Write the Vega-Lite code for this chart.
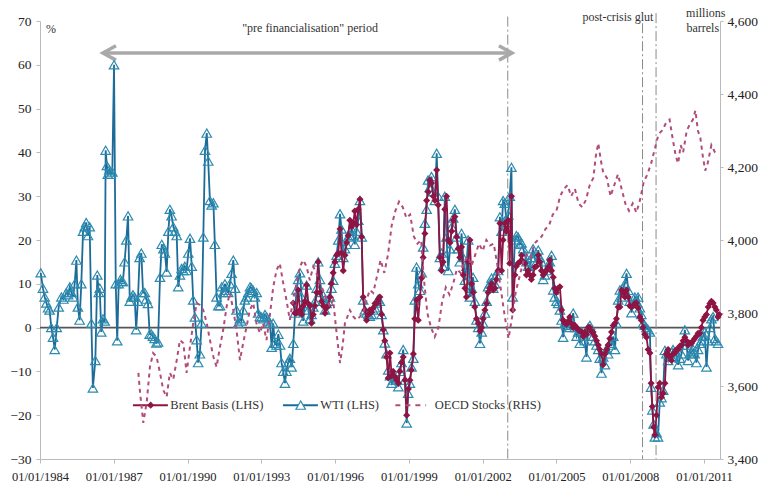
{
  "$schema": "https://vega.github.io/schema/vega-lite/v6.json",
  "width": 680,
  "height": 438,
  "autosize": {"type": "none"},
  "padding": {"left": 40, "top": 21, "right": 41, "bottom": 25},
  "background": "white",
  "config": {
    "view": {"stroke": null},
    "font": "Liberation Serif, DejaVu Serif, serif",
    "axis": {"labelFont": "Liberation Serif, DejaVu Serif, serif", "labelColor": "#222", "domainColor": "#bbbbbb", "tickColor": "#bbbbbb", "grid": false, "title": null, "labelOverlap": false, "labelFlush": false},
    "text": {"font": "Liberation Serif, DejaVu Serif, serif"}
  },
  "datasets": {
    "wti": [
      {"t":1984.03,"v":12.5},{"t":1984.12,"v":9},{"t":1984.19,"v":7},{"t":1984.26,"v":5.6},{"t":1984.33,"v":4.5},{"t":1984.39,"v":4},{"t":1984.46,"v":0},{"t":1984.53,"v":-2.2},{"t":1984.6,"v":-5},{"t":1984.68,"v":0},{"t":1984.76,"v":4.7},{"t":1984.87,"v":7},{"t":1984.95,"v":6.5},
      {"t":1985.07,"v":8},{"t":1985.14,"v":7.5},{"t":1985.21,"v":9.3},{"t":1985.28,"v":8},{"t":1985.34,"v":7},{"t":1985.41,"v":10},{"t":1985.48,"v":15.4},{"t":1985.54,"v":4.7},{"t":1985.61,"v":1.7},{"t":1985.68,"v":10},{"t":1985.75,"v":22},{"t":1985.82,"v":23},{"t":1985.88,"v":24},{"t":1985.95,"v":21},
      {"t":1986.02,"v":23},{"t":1986.09,"v":1},{"t":1986.15,"v":-13.8},{"t":1986.25,"v":-7.5},{"t":1986.33,"v":12},{"t":1986.39,"v":8},{"t":1986.43,"v":9},{"t":1986.49,"v":-1},{"t":1986.56,"v":2},{"t":1986.63,"v":1.5},{"t":1986.67,"v":40.5},{"t":1986.72,"v":37},{"t":1986.76,"v":35},{"t":1986.82,"v":36},{"t":1986.87,"v":35},{"t":1986.94,"v":35.5},
      {"t":1987.01,"v":60},{"t":1987.08,"v":10},{"t":1987.14,"v":-3},{"t":1987.2,"v":10},{"t":1987.27,"v":11},{"t":1987.31,"v":10.5},{"t":1987.37,"v":10.5},{"t":1987.44,"v":15},{"t":1987.51,"v":20},{"t":1987.58,"v":25.5},{"t":1987.65,"v":6},{"t":1987.72,"v":7},{"t":1987.78,"v":7.5},{"t":1987.85,"v":7},{"t":1987.91,"v":-0.5},{"t":1987.98,"v":6},
      {"t":1988.05,"v":16},{"t":1988.12,"v":17},{"t":1988.19,"v":8},{"t":1988.26,"v":8},{"t":1988.32,"v":6.5},{"t":1988.39,"v":5.5},{"t":1988.46,"v":-1.5},{"t":1988.53,"v":-1.5},{"t":1988.59,"v":-2},{"t":1988.66,"v":-2.5},{"t":1988.73,"v":-3.5},{"t":1988.8,"v":-3.3},{"t":1988.88,"v":11.5},{"t":1988.95,"v":19},
      {"t":1989.02,"v":18},{"t":1989.08,"v":17},{"t":1989.15,"v":12.7},{"t":1989.22,"v":22},{"t":1989.28,"v":27},{"t":1989.35,"v":25.5},{"t":1989.42,"v":23},{"t":1989.49,"v":22},{"t":1989.56,"v":21},{"t":1989.62,"v":9.3},{"t":1989.69,"v":12},{"t":1989.76,"v":13.5},{"t":1989.83,"v":13},{"t":1989.89,"v":14},{"t":1989.96,"v":13},
      {"t":1990.03,"v":17},{"t":1990.1,"v":20.4},{"t":1990.17,"v":14},{"t":1990.23,"v":6.3},{"t":1990.3,"v":2.4},{"t":1990.37,"v":-2.8},{"t":1990.43,"v":-8},{"t":1990.5,"v":-6},{"t":1990.57,"v":1},{"t":1990.64,"v":20.7},{"t":1990.71,"v":40.5},{"t":1990.78,"v":44.4},{"t":1990.84,"v":38},{"t":1990.91,"v":29},{"t":1990.98,"v":28},
      {"t":1991.05,"v":28.5},{"t":1991.11,"v":19},{"t":1991.18,"v":7},{"t":1991.25,"v":5},{"t":1991.32,"v":5},{"t":1991.39,"v":9.3},{"t":1991.45,"v":8},{"t":1991.52,"v":10},{"t":1991.59,"v":8.5},{"t":1991.65,"v":8},{"t":1991.72,"v":10},{"t":1991.79,"v":12.4},{"t":1991.86,"v":15.4},{"t":1991.93,"v":9},{"t":1991.99,"v":4},
      {"t":1992.06,"v":1},{"t":1992.13,"v":2},{"t":1992.19,"v":1.5},{"t":1992.26,"v":4},{"t":1992.33,"v":6.3},{"t":1992.4,"v":7},{"t":1992.47,"v":8},{"t":1992.54,"v":9.3},{"t":1992.6,"v":9},{"t":1992.67,"v":8.5},{"t":1992.74,"v":7},{"t":1992.81,"v":8},{"t":1992.87,"v":3.3},{"t":1992.94,"v":2.5},
      {"t":1993.01,"v":2.4},{"t":1993.08,"v":2},{"t":1993.15,"v":3},{"t":1993.22,"v":2.4},{"t":1993.28,"v":1.5},{"t":1993.35,"v":1},{"t":1993.42,"v":-4.5},{"t":1993.48,"v":1},{"t":1993.55,"v":-3.6},{"t":1993.62,"v":-4},{"t":1993.69,"v":-1.5},{"t":1993.76,"v":-4},{"t":1993.82,"v":-8},{"t":1993.89,"v":-10},{"t":1993.96,"v":-12.7},
      {"t":1994.02,"v":-10},{"t":1994.09,"v":-8},{"t":1994.16,"v":-7},{"t":1994.23,"v":-9},{"t":1994.3,"v":-3.6},{"t":1994.37,"v":3.3},{"t":1994.43,"v":8.6},{"t":1994.5,"v":11},{"t":1994.57,"v":12.5},{"t":1994.64,"v":7},{"t":1994.7,"v":1.5},{"t":1994.77,"v":5.5},{"t":1994.84,"v":9.7},{"t":1994.91,"v":4},{"t":1994.98,"v":2},
      {"t":1995.04,"v":3},{"t":1995.11,"v":4.7},{"t":1995.18,"v":6},{"t":1995.25,"v":9},{"t":1995.31,"v":15},{"t":1995.38,"v":11},{"t":1995.45,"v":8},{"t":1995.52,"v":6},{"t":1995.59,"v":4},{"t":1995.65,"v":5.5},{"t":1995.72,"v":6},{"t":1995.79,"v":7},{"t":1995.85,"v":9},{"t":1995.92,"v":10.8},{"t":1995.99,"v":14.7},
      {"t":1996.06,"v":16.5},{"t":1996.13,"v":20},{"t":1996.2,"v":26},{"t":1996.26,"v":22.5},{"t":1996.33,"v":16},{"t":1996.4,"v":18},{"t":1996.47,"v":19},{"t":1996.53,"v":20.7},{"t":1996.6,"v":21},{"t":1996.67,"v":22.5},{"t":1996.74,"v":21},{"t":1996.8,"v":19},{"t":1996.87,"v":22},{"t":1996.94,"v":24.5},
      {"t":1997.01,"v":29},{"t":1997.08,"v":20.7},{"t":1997.14,"v":6.3},{"t":1997.21,"v":4},{"t":1997.28,"v":3.3},{"t":1997.35,"v":3},{"t":1997.41,"v":2.6},{"t":1997.48,"v":3},{"t":1997.55,"v":4},{"t":1997.62,"v":4.5},{"t":1997.69,"v":5.6},{"t":1997.75,"v":6.5},{"t":1997.82,"v":6},{"t":1997.89,"v":3},{"t":1997.96,"v":-0.5},
      {"t":1998.02,"v":-3.5},{"t":1998.09,"v":-6},{"t":1998.16,"v":-9.7},{"t":1998.23,"v":-11},{"t":1998.3,"v":-12.7},{"t":1998.36,"v":-12},{"t":1998.43,"v":-11.5},{"t":1998.5,"v":-12},{"t":1998.57,"v":-13.5},{"t":1998.63,"v":-10},{"t":1998.7,"v":-8},{"t":1998.77,"v":-5},{"t":1998.84,"v":-12},{"t":1998.91,"v":-21.8},{"t":1998.97,"v":-15},
      {"t":1999.04,"v":-12.7},{"t":1999.11,"v":-9},{"t":1999.18,"v":-7},{"t":1999.24,"v":6.3},{"t":1999.31,"v":13.8},{"t":1999.38,"v":10},{"t":1999.45,"v":8.5},{"t":1999.52,"v":12.5},{"t":1999.58,"v":18.4},{"t":1999.65,"v":23.8},{"t":1999.72,"v":27},{"t":1999.78,"v":33.7},{"t":1999.85,"v":32},{"t":1999.92,"v":34.5},{"t":1999.99,"v":31},
      {"t":2000.06,"v":29},{"t":2000.13,"v":39.8},{"t":2000.19,"v":30},{"t":2000.26,"v":16},{"t":2000.33,"v":17},{"t":2000.39,"v":14},{"t":2000.46,"v":30},{"t":2000.53,"v":20.7},{"t":2000.6,"v":13},{"t":2000.67,"v":18},{"t":2000.74,"v":23},{"t":2000.8,"v":25},{"t":2000.87,"v":27},{"t":2000.94,"v":20.7},
      {"t":2001.0,"v":18},{"t":2001.07,"v":15},{"t":2001.14,"v":21.5},{"t":2001.21,"v":16},{"t":2001.28,"v":10.8},{"t":2001.34,"v":14},{"t":2001.41,"v":20},{"t":2001.48,"v":7},{"t":2001.55,"v":9},{"t":2001.61,"v":11.5},{"t":2001.68,"v":6},{"t":2001.75,"v":1.7},{"t":2001.82,"v":0},{"t":2001.89,"v":-3.6},{"t":2001.96,"v":-1},
      {"t":2002.02,"v":1},{"t":2002.09,"v":3.3},{"t":2002.16,"v":6},{"t":2002.22,"v":9.3},{"t":2002.29,"v":10},{"t":2002.36,"v":11.3},{"t":2002.43,"v":9},{"t":2002.5,"v":10},{"t":2002.56,"v":12},{"t":2002.63,"v":13},{"t":2002.7,"v":25.3},{"t":2002.77,"v":22},{"t":2002.83,"v":29},{"t":2002.9,"v":28.4},{"t":2002.97,"v":24},
      {"t":2003.04,"v":25.7},{"t":2003.1,"v":30},{"t":2003.17,"v":36.6},{"t":2003.22,"v":7},{"t":2003.31,"v":20},{"t":2003.37,"v":21},{"t":2003.44,"v":20.7},{"t":2003.51,"v":19},{"t":2003.58,"v":19.3},{"t":2003.65,"v":18},{"t":2003.72,"v":16.5},{"t":2003.78,"v":15},{"t":2003.85,"v":14},{"t":2003.92,"v":13},{"t":2003.98,"v":16},
      {"t":2004.05,"v":18},{"t":2004.12,"v":16},{"t":2004.19,"v":15},{"t":2004.26,"v":17.7},{"t":2004.32,"v":16},{"t":2004.39,"v":15},{"t":2004.46,"v":11},{"t":2004.53,"v":12},{"t":2004.59,"v":13},{"t":2004.66,"v":13.8},{"t":2004.73,"v":15},{"t":2004.8,"v":16.5},{"t":2004.87,"v":8.6},{"t":2004.93,"v":7},
      {"t":2005.0,"v":6},{"t":2005.07,"v":5.5},{"t":2005.14,"v":4},{"t":2005.21,"v":1.7},{"t":2005.27,"v":-2.2},{"t":2005.34,"v":1},{"t":2005.41,"v":0.5},{"t":2005.48,"v":1},{"t":2005.54,"v":0},{"t":2005.61,"v":1.5},{"t":2005.68,"v":3.3},{"t":2005.75,"v":0},{"t":2005.82,"v":-2},{"t":2005.88,"v":-1},{"t":2005.95,"v":-3.6},
      {"t":2006.02,"v":-1},{"t":2006.09,"v":-2},{"t":2006.15,"v":-3},{"t":2006.22,"v":-6.7},{"t":2006.29,"v":0},{"t":2006.36,"v":0.5},{"t":2006.43,"v":-0.8},{"t":2006.49,"v":-2},{"t":2006.56,"v":-3},{"t":2006.63,"v":-4},{"t":2006.7,"v":-5},{"t":2006.76,"v":-7},{"t":2006.83,"v":-10.4},{"t":2006.9,"v":-6.7},{"t":2006.97,"v":-8.5},
      {"t":2007.04,"v":-5},{"t":2007.1,"v":-6},{"t":2007.17,"v":-3.6},{"t":2007.24,"v":-4},{"t":2007.31,"v":-2},{"t":2007.38,"v":-5},{"t":2007.44,"v":1},{"t":2007.51,"v":6.3},{"t":2007.58,"v":8.6},{"t":2007.65,"v":7},{"t":2007.72,"v":9},{"t":2007.78,"v":10},{"t":2007.85,"v":12.4},{"t":2007.92,"v":8.5},{"t":2007.98,"v":6},
      {"t":2008.05,"v":3.4},{"t":2008.12,"v":5.5},{"t":2008.19,"v":7},{"t":2008.25,"v":6},{"t":2008.32,"v":7},{"t":2008.39,"v":4.5},{"t":2008.45,"v":3},{"t":2008.52,"v":1},{"t":2008.59,"v":0.5},{"t":2008.66,"v":0},{"t":2008.73,"v":-0.5},{"t":2008.8,"v":-1},{"t":2008.85,"v":-13.6},{"t":2008.9,"v":-18.8},{"t":2008.95,"v":-22},
      {"t":2009.0,"v":-25},{"t":2009.07,"v":-24},{"t":2009.13,"v":-25},{"t":2009.2,"v":-17},{"t":2009.27,"v":-16},{"t":2009.34,"v":-14.3},{"t":2009.41,"v":-5.2},{"t":2009.47,"v":-6},{"t":2009.54,"v":-7.5},{"t":2009.61,"v":-6},{"t":2009.68,"v":-6.7},{"t":2009.74,"v":-5},{"t":2009.81,"v":-5.6},{"t":2009.88,"v":-6},{"t":2009.95,"v":-8.5},
      {"t":2010.02,"v":-7},{"t":2010.09,"v":-6},{"t":2010.15,"v":-4},{"t":2010.22,"v":-0.5},{"t":2010.29,"v":-4},{"t":2010.35,"v":-7.5},{"t":2010.42,"v":-6},{"t":2010.49,"v":-5.5},{"t":2010.56,"v":-5},{"t":2010.62,"v":-6},{"t":2010.69,"v":-8},{"t":2010.76,"v":-5},{"t":2010.83,"v":-3.6},{"t":2010.89,"v":-3},{"t":2010.96,"v":-2},
      {"t":2011.03,"v":-1},{"t":2011.1,"v":-9},{"t":2011.17,"v":-3},{"t":2011.24,"v":0},{"t":2011.3,"v":2},{"t":2011.37,"v":2.5},{"t":2011.44,"v":-2.5},{"t":2011.5,"v":-3},{"t":2011.57,"v":-3.6}
    ],
    "brent": [
      {"t":1994.3,"v":5.6},{"t":1994.37,"v":3.3},{"t":1994.43,"v":3.3},{"t":1994.5,"v":8.6},{"t":1994.57,"v":4},{"t":1994.64,"v":3},{"t":1994.7,"v":5},{"t":1994.77,"v":6},{"t":1994.84,"v":9.7},{"t":1994.91,"v":5.5},{"t":1994.98,"v":5},
      {"t":1995.04,"v":1},{"t":1995.11,"v":3},{"t":1995.18,"v":5},{"t":1995.25,"v":8},{"t":1995.31,"v":15},{"t":1995.38,"v":8},{"t":1995.45,"v":6},{"t":1995.52,"v":5},{"t":1995.59,"v":3.3},{"t":1995.65,"v":4.5},{"t":1995.72,"v":5},{"t":1995.79,"v":7},{"t":1995.85,"v":10},{"t":1995.92,"v":12.5},{"t":1995.99,"v":15},
      {"t":1996.06,"v":16.5},{"t":1996.13,"v":17},{"t":1996.2,"v":22.5},{"t":1996.26,"v":17},{"t":1996.33,"v":13},{"t":1996.4,"v":16.5},{"t":1996.47,"v":19.4},{"t":1996.53,"v":21},{"t":1996.6,"v":24.5},{"t":1996.67,"v":23},{"t":1996.74,"v":24},{"t":1996.8,"v":26.6},{"t":1996.87,"v":23.5},{"t":1996.94,"v":27},
      {"t":1997.01,"v":29.3},{"t":1997.08,"v":20.7},{"t":1997.14,"v":7},{"t":1997.21,"v":4},{"t":1997.28,"v":1.7},{"t":1997.35,"v":3},{"t":1997.41,"v":4},{"t":1997.48,"v":3.5},{"t":1997.55,"v":4.5},{"t":1997.62,"v":5.5},{"t":1997.69,"v":5.5},{"t":1997.75,"v":6.5},{"t":1997.82,"v":7},{"t":1997.89,"v":3},{"t":1997.96,"v":-0.5},
      {"t":1998.02,"v":-3},{"t":1998.09,"v":-6.7},{"t":1998.16,"v":-11.5},{"t":1998.23,"v":-5.8},{"t":1998.3,"v":-11},{"t":1998.36,"v":-10},{"t":1998.43,"v":-11.2},{"t":1998.5,"v":-12},{"t":1998.57,"v":-12.7},{"t":1998.63,"v":-10},{"t":1998.7,"v":-8},{"t":1998.77,"v":-6.7},{"t":1998.84,"v":-12},{"t":1998.91,"v":-20},{"t":1998.98,"v":-14},
      {"t":1999.04,"v":-12},{"t":1999.1,"v":-9.7},{"t":1999.18,"v":-6},{"t":1999.24,"v":2},{"t":1999.31,"v":6.3},{"t":1999.38,"v":1.7},{"t":1999.45,"v":7},{"t":1999.52,"v":11.3},{"t":1999.58,"v":16},{"t":1999.65,"v":21.5},{"t":1999.72,"v":29},{"t":1999.78,"v":31},{"t":1999.85,"v":33.7},{"t":1999.92,"v":33},{"t":1999.99,"v":30},
      {"t":2000.06,"v":29},{"t":2000.13,"v":36},{"t":2000.19,"v":28},{"t":2000.26,"v":16},{"t":2000.33,"v":13},{"t":2000.39,"v":15},{"t":2000.46,"v":27},{"t":2000.53,"v":30},{"t":2000.6,"v":20},{"t":2000.67,"v":19.4},{"t":2000.74,"v":22},{"t":2000.8,"v":24.5},{"t":2000.87,"v":25.3},{"t":2000.94,"v":20.7},
      {"t":2001.01,"v":18},{"t":2001.07,"v":16},{"t":2001.14,"v":18.4},{"t":2001.21,"v":12},{"t":2001.28,"v":9},{"t":2001.34,"v":7},{"t":2001.41,"v":15},{"t":2001.48,"v":20},{"t":2001.55,"v":10},{"t":2001.61,"v":8},{"t":2001.68,"v":4.7},{"t":2001.75,"v":2},{"t":2001.82,"v":1},{"t":2001.89,"v":-0.8},{"t":2001.96,"v":0},
      {"t":2002.02,"v":2},{"t":2002.09,"v":4},{"t":2002.16,"v":5.5},{"t":2002.22,"v":8},{"t":2002.29,"v":9},{"t":2002.36,"v":10},{"t":2002.43,"v":8.6},{"t":2002.5,"v":9},{"t":2002.56,"v":11},{"t":2002.63,"v":13},{"t":2002.7,"v":23.8},{"t":2002.77,"v":13},{"t":2002.83,"v":20},{"t":2002.9,"v":23.8},{"t":2002.97,"v":22},
      {"t":2003.04,"v":24.5},{"t":2003.1,"v":14.7},{"t":2003.17,"v":30},{"t":2003.22,"v":4},{"t":2003.31,"v":12},{"t":2003.37,"v":14},{"t":2003.44,"v":14.7},{"t":2003.51,"v":15},{"t":2003.58,"v":16.5},{"t":2003.65,"v":15},{"t":2003.72,"v":14.7},{"t":2003.78,"v":12},{"t":2003.85,"v":13},{"t":2003.92,"v":12},{"t":2003.98,"v":11},
      {"t":2004.05,"v":12},{"t":2004.12,"v":13.8},{"t":2004.19,"v":14},{"t":2004.26,"v":16.5},{"t":2004.32,"v":15},{"t":2004.39,"v":13},{"t":2004.46,"v":12},{"t":2004.53,"v":12.5},{"t":2004.59,"v":13},{"t":2004.66,"v":13.8},{"t":2004.73,"v":15.4},{"t":2004.8,"v":13},{"t":2004.87,"v":11.5},{"t":2004.93,"v":9},
      {"t":2005.0,"v":8},{"t":2005.07,"v":9},{"t":2005.14,"v":9.3},{"t":2005.21,"v":4},{"t":2005.27,"v":1.7},{"t":2005.34,"v":1},{"t":2005.41,"v":0.8},{"t":2005.48,"v":1.5},{"t":2005.54,"v":2.4},{"t":2005.61,"v":1},{"t":2005.68,"v":0},{"t":2005.75,"v":0.5},{"t":2005.82,"v":0},{"t":2005.88,"v":-0.5},{"t":2005.95,"v":-0.8},
      {"t":2006.02,"v":-1},{"t":2006.09,"v":-2},{"t":2006.15,"v":-1},{"t":2006.22,"v":-1.5},{"t":2006.29,"v":0},{"t":2006.36,"v":0},{"t":2006.43,"v":-1},{"t":2006.49,"v":-1},{"t":2006.56,"v":-2},{"t":2006.63,"v":-3},{"t":2006.7,"v":-4},{"t":2006.76,"v":-5},{"t":2006.83,"v":-6},{"t":2006.9,"v":-8.5},{"t":2006.97,"v":-6},
      {"t":2007.04,"v":-5},{"t":2007.1,"v":-4},{"t":2007.17,"v":-2.5},{"t":2007.24,"v":-1},{"t":2007.31,"v":0.5},{"t":2007.38,"v":1},{"t":2007.44,"v":2},{"t":2007.51,"v":4.7},{"t":2007.58,"v":4.7},{"t":2007.65,"v":8.6},{"t":2007.72,"v":8},{"t":2007.78,"v":7},{"t":2007.85,"v":8.6},{"t":2007.92,"v":7},{"t":2007.98,"v":5},
      {"t":2008.05,"v":4.7},{"t":2008.12,"v":5},{"t":2008.19,"v":5.5},{"t":2008.25,"v":5.6},{"t":2008.32,"v":4.5},{"t":2008.39,"v":2.4},{"t":2008.45,"v":1.7},{"t":2008.52,"v":0},{"t":2008.59,"v":-1.5},{"t":2008.66,"v":-2.2},{"t":2008.73,"v":-5},{"t":2008.8,"v":-5.8},{"t":2008.85,"v":-12.7},{"t":2008.9,"v":-18},{"t":2008.95,"v":-22.7},
      {"t":2009.0,"v":-24.5},{"t":2009.07,"v":-20},{"t":2009.13,"v":-13.6},{"t":2009.2,"v":-12.7},{"t":2009.27,"v":-15.9},{"t":2009.34,"v":-15},{"t":2009.41,"v":-12.7},{"t":2009.47,"v":-6},{"t":2009.54,"v":-5},{"t":2009.61,"v":-6.7},{"t":2009.68,"v":-7.5},{"t":2009.74,"v":-6},{"t":2009.81,"v":-5.8},{"t":2009.88,"v":-5},{"t":2009.95,"v":-5},
      {"t":2010.02,"v":-4.2},{"t":2010.09,"v":-4},{"t":2010.15,"v":-3},{"t":2010.22,"v":-2.2},{"t":2010.29,"v":-3},{"t":2010.35,"v":-4},{"t":2010.42,"v":-3.5},{"t":2010.49,"v":-3.6},{"t":2010.56,"v":-3},{"t":2010.62,"v":-2.5},{"t":2010.69,"v":-2},{"t":2010.76,"v":-1.3},{"t":2010.83,"v":-1.3},{"t":2010.89,"v":0},{"t":2010.96,"v":1.7},
      {"t":2011.03,"v":2.4},{"t":2011.1,"v":3},{"t":2011.17,"v":4.7},{"t":2011.24,"v":5.5},{"t":2011.3,"v":6},{"t":2011.37,"v":5.6},{"t":2011.44,"v":4.7},{"t":2011.5,"v":4},{"t":2011.57,"v":2.4},{"t":2011.62,"v":3}
    ],
    "oecd": [
      {"t":1988.0,"s":3636},{"t":1988.07,"s":3581},{"t":1988.2,"s":3499},{"t":1988.34,"s":3556},{"t":1988.47,"s":3652},{"t":1988.6,"s":3690},{"t":1988.74,"s":3680},{"t":1988.88,"s":3636},
      {"t":1989.01,"s":3589},{"t":1989.15,"s":3570},{"t":1989.28,"s":3636},{"t":1989.42,"s":3618},{"t":1989.56,"s":3671},{"t":1989.69,"s":3726},{"t":1989.83,"s":3717},{"t":1989.96,"s":3636},
      {"t":1990.1,"s":3708},{"t":1990.23,"s":3772},{"t":1990.37,"s":3827},{"t":1990.5,"s":3822},{"t":1990.64,"s":3808},{"t":1990.78,"s":3772},{"t":1990.91,"s":3726},
      {"t":1991.05,"s":3680},{"t":1991.18,"s":3652},{"t":1991.32,"s":3708},{"t":1991.45,"s":3754},{"t":1991.59,"s":3818},{"t":1991.72,"s":3855},{"t":1991.86,"s":3808},{"t":1991.99,"s":3754},
      {"t":1992.13,"s":3671},{"t":1992.26,"s":3717},{"t":1992.4,"s":3763},{"t":1992.53,"s":3808},{"t":1992.67,"s":3827},{"t":1992.8,"s":3772},{"t":1992.94,"s":3745},
      {"t":1993.07,"s":3772},{"t":1993.21,"s":3726},{"t":1993.34,"s":3790},{"t":1993.48,"s":3870},{"t":1993.62,"s":3918},{"t":1993.75,"s":3936},{"t":1993.89,"s":3882},
      {"t":1994.02,"s":3836},{"t":1994.16,"s":3781},{"t":1994.29,"s":3836},{"t":1994.43,"s":3882},{"t":1994.57,"s":3927},{"t":1994.7,"s":3945},{"t":1994.84,"s":3927},{"t":1994.97,"s":3890},
      {"t":1995.11,"s":3927},{"t":1995.24,"s":3909},{"t":1995.38,"s":3882},{"t":1995.51,"s":3863},{"t":1995.65,"s":3836},{"t":1995.79,"s":3818},{"t":1995.92,"s":3836},
      {"t":1996.06,"s":3745},{"t":1996.2,"s":3663},{"t":1996.3,"s":3708},{"t":1996.4,"s":3772},{"t":1996.6,"s":3808},{"t":1996.74,"s":3790},{"t":1996.87,"s":3781},
      {"t":1997.01,"s":3790},{"t":1997.14,"s":3800},{"t":1997.28,"s":3836},{"t":1997.41,"s":3863},{"t":1997.55,"s":3855},{"t":1997.7,"s":3900},{"t":1997.85,"s":3945},
      {"t":1998.0,"s":3910},{"t":1998.15,"s":3960},{"t":1998.3,"s":4040},{"t":1998.45,"s":4080},{"t":1998.6,"s":4105},{"t":1998.75,"s":4090},{"t":1998.9,"s":4060},
      {"t":1999.05,"s":4070},{"t":1999.2,"s":4010},{"t":1999.35,"s":3990},{"t":1999.5,"s":4000},{"t":1999.6,"s":3900},{"t":1999.75,"s":3800},{"t":1999.9,"s":3760},
      {"t":2000.05,"s":3735},{"t":2000.2,"s":3760},{"t":2000.35,"s":3830},{"t":2000.5,"s":3870},{"t":2000.65,"s":3850},{"t":2000.8,"s":3880},{"t":2000.95,"s":3920},
      {"t":2001.1,"s":3910},{"t":2001.25,"s":3940},{"t":2001.4,"s":3955},{"t":2001.55,"s":3930},{"t":2001.7,"s":3960},{"t":2001.85,"s":3990},
      {"t":2002.0,"s":3970},{"t":2002.15,"s":4000},{"t":2002.3,"s":3985},{"t":2002.45,"s":3990},{"t":2002.6,"s":3930},{"t":2002.75,"s":3860},{"t":2002.9,"s":3790},
      {"t":2003.05,"s":3730},{"t":2003.2,"s":3790},{"t":2003.35,"s":3860},{"t":2003.5,"s":3900},{"t":2003.65,"s":3940},{"t":2003.8,"s":3960},{"t":2003.95,"s":3950},
      {"t":2004.1,"s":3990},{"t":2004.25,"s":4000},{"t":2004.4,"s":4010},{"t":2004.55,"s":4030},{"t":2004.7,"s":4040},{"t":2004.85,"s":4070},
      {"t":2005.0,"s":4080},{"t":2005.15,"s":4120},{"t":2005.3,"s":4140},{"t":2005.45,"s":4150},{"t":2005.6,"s":4120},{"t":2005.75,"s":4140},{"t":2005.9,"s":4100},
      {"t":2006.05,"s":4090},{"t":2006.2,"s":4110},{"t":2006.35,"s":4150},{"t":2006.5,"s":4170},{"t":2006.6,"s":4230},{"t":2006.7,"s":4265},{"t":2006.8,"s":4220},{"t":2006.9,"s":4185},
      {"t":2007.05,"s":4170},{"t":2007.2,"s":4120},{"t":2007.35,"s":4150},{"t":2007.5,"s":4180},{"t":2007.65,"s":4140},{"t":2007.8,"s":4100},{"t":2007.95,"s":4080},
      {"t":2008.1,"s":4100},{"t":2008.25,"s":4075},{"t":2008.4,"s":4110},{"t":2008.55,"s":4160},{"t":2008.7,"s":4180},{"t":2008.85,"s":4210},
      {"t":2009.0,"s":4250},{"t":2009.15,"s":4290},{"t":2009.3,"s":4300},{"t":2009.45,"s":4320},{"t":2009.6,"s":4330},{"t":2009.72,"s":4280},{"t":2009.85,"s":4230},{"t":2009.95,"s":4210},
      {"t":2010.05,"s":4260},{"t":2010.15,"s":4240},{"t":2010.3,"s":4300},{"t":2010.45,"s":4320},{"t":2010.55,"s":4330},{"t":2010.65,"s":4355},{"t":2010.75,"s":4300},{"t":2010.85,"s":4280},{"t":2010.95,"s":4230},
      {"t":2011.05,"s":4190},{"t":2011.15,"s":4210},{"t":2011.3,"s":4260},{"t":2011.45,"s":4240},{"t":2011.6,"s":4235}
    ],
    "vlines": [
      {"t": 2003.02, "v": 71, "v2": -30},
      {"t": 2008.5, "v": 69.5, "v2": -30},
      {"t": 2009.05, "v": 71.8, "v2": -30}
    ],
    "notes": [
      {"t": 1994.98, "v": 68.5, "label": "\"pre financialisation\" period"},
      {"t": 2007.5, "v": 70.8, "label": "post-crisis glut"},
      {"t": 2011.07, "v": 71.9, "label": "millions"},
      {"t": 2010.95, "v": 68.5, "label": "barrels"},
      {"t": 1984.45, "v": 68.2, "label": "%"}
    ],
    "legend": [
      {"series": "Brent", "t": 1987.78, "t2": 1989.2, "tm": 1988.5, "tx": 1989.3, "v": -17.7, "label": "Brent Basis (LHS)"},
      {"series": "WTI", "t": 1993.88, "t2": 1995.3, "tm": 1994.6, "tx": 1995.4, "v": -17.7, "label": "WTI (LHS)"},
      {"series": "OECD", "t": 1998.45, "t2": 1999.7, "tm": 1999.1, "tx": 2000.05, "v": -17.7, "label": "OECD Stocks (RHS)"}
    ]
  },
  "encoding": {
    "x": {
      "field": "t", "type": "quantitative",
      "scale": {"domain": [1984, 2011.65], "nice": false, "zero": false},
      "axis": {"values": [1984,1987,1990,1993,1996,1999,2002,2005,2008,2011], "labelExpr": "'01/01/' + datum.value", "labelFontSize": 12.5, "tickSize": 4, "labelPadding": 7, "labelOverlap": false, "labelFlush": false, "title": null}
    }
  },
  "layer": [
    {
      "encoding": {
        "y": {
          "field": "v", "type": "quantitative",
          "scale": {"domain": [-30, 70], "nice": false, "zero": false},
          "axis": {"values": [-30,-20,-10,0,10,20,30,40,50,60,70], "labelFontSize": 13.5, "tickSize": 4, "labelPadding": 5, "labelOverlap": false, "labelFlush": false, "title": null}
        }
      },
      "layer": [
        {
          "data": {"values": [{"t": 1984, "t2": 2011.65, "v": 0}]},
          "mark": {"type": "rule", "color": "#555555", "strokeWidth": 1.6},
          "encoding": {"x2": {"field": "t2"}}
        },
        {
          "data": {"name": "vlines"},
          "mark": {"type": "rule", "color": "#8a8a8a", "strokeWidth": 1, "strokeDash": [10, 3, 2, 3]},
          "encoding": {"y2": {"field": "v2"}}
        },
        {
          "data": {"values": [{"t": 1986.56, "t2": 2003.19, "v": 62.7}]},
          "mark": {"type": "rule", "color": "#a9a9a9", "strokeWidth": 3.5},
          "encoding": {"x2": {"field": "t2"}}
        },
        {
          "data": {"values": [{"t": 1986.56, "v": 62.7}]},
          "mark": {"type": "point", "shape": "M1,-0.55L0,0L1,0.55", "filled": false, "size": 676, "color": "#a9a9a9", "strokeWidth": 3.5, "opacity": 1, "strokeJoin": "miter"}
        },
        {
          "data": {"values": [{"t": 2003.19, "v": 62.7}]},
          "mark": {"type": "point", "shape": "M-1,-0.55L0,0L-1,0.55", "filled": false, "size": 676, "color": "#a9a9a9", "strokeWidth": 3.5, "opacity": 1, "strokeJoin": "miter"}
        },
        {
          "data": {"name": "notes"},
          "mark": {"type": "text", "fontSize": 12, "color": "#333333", "align": "center", "baseline": "middle"},
          "encoding": {"text": {"field": "label"}}
        },
        {
          "data": {"name": "wti"},
          "mark": {"type": "line", "color": "#1c6b98", "strokeWidth": 1.8}
        },
        {
          "data": {"name": "wti"},
          "mark": {"type": "point", "shape": "triangle-up", "filled": false, "size": 90, "color": "#2d8bb0", "strokeWidth": 1.2, "opacity": 1}
        },
        {
          "data": {"name": "brent"},
          "mark": {"type": "line", "color": "#8e1443", "strokeWidth": 1.8}
        },
        {
          "data": {"name": "brent"},
          "mark": {"type": "point", "shape": "diamond", "filled": true, "size": 50, "color": "#8e1443", "opacity": 1}
        },
        {
          "data": {"name": "legend"},
          "transform": [{"filter": "datum.series === 'Brent'"}],
          "layer": [
            {"mark": {"type": "rule", "color": "#8e1443", "strokeWidth": 2}, "encoding": {"x2": {"field": "t2"}}},
            {"mark": {"type": "point", "shape": "diamond", "filled": true, "size": 50, "color": "#8e1443", "opacity": 1}, "encoding": {"x": {"field": "tm", "type": "quantitative"}}}
          ]
        },
        {
          "data": {"name": "legend"},
          "transform": [{"filter": "datum.series === 'WTI'"}],
          "layer": [
            {"mark": {"type": "rule", "color": "#1c6b98", "strokeWidth": 2}, "encoding": {"x2": {"field": "t2"}}},
            {"mark": {"type": "point", "shape": "triangle-up", "filled": true, "fill": "white", "size": 90, "stroke": "#2d8bb0", "strokeWidth": 1.2, "opacity": 1}, "encoding": {"x": {"field": "tm", "type": "quantitative"}}}
          ]
        },
        {
          "data": {"name": "legend"},
          "transform": [{"filter": "datum.series === 'OECD'"}],
          "mark": {"type": "rule", "color": "#b14d7a", "strokeWidth": 2, "strokeDash": [5, 5]},
          "encoding": {"x2": {"field": "t2"}}
        },
        {
          "data": {"name": "legend"},
          "mark": {"type": "text", "fontSize": 12.5, "color": "#333333", "align": "left", "baseline": "middle"},
          "encoding": {"x": {"field": "tx", "type": "quantitative"}, "text": {"field": "label"}}
        }
      ]
    },
    {
      "data": {"name": "oecd"},
      "mark": {"type": "line", "color": "#b14d7a", "strokeWidth": 2, "strokeDash": [4, 4]},
      "encoding": {
        "y": {
          "field": "s", "type": "quantitative",
          "scale": {"domain": [3400, 4600], "nice": false, "zero": false},
          "axis": {"orient": "right", "values": [3400,3600,3800,4000,4200,4400,4600], "format": ",.0f", "labelFontSize": 13.5, "tickSize": 3, "labelPadding": 4, "labelOverlap": false, "labelFlush": false, "title": null}
        }
      }
    }
  ],
  "resolve": {"scale": {"y": "independent"}}
}
